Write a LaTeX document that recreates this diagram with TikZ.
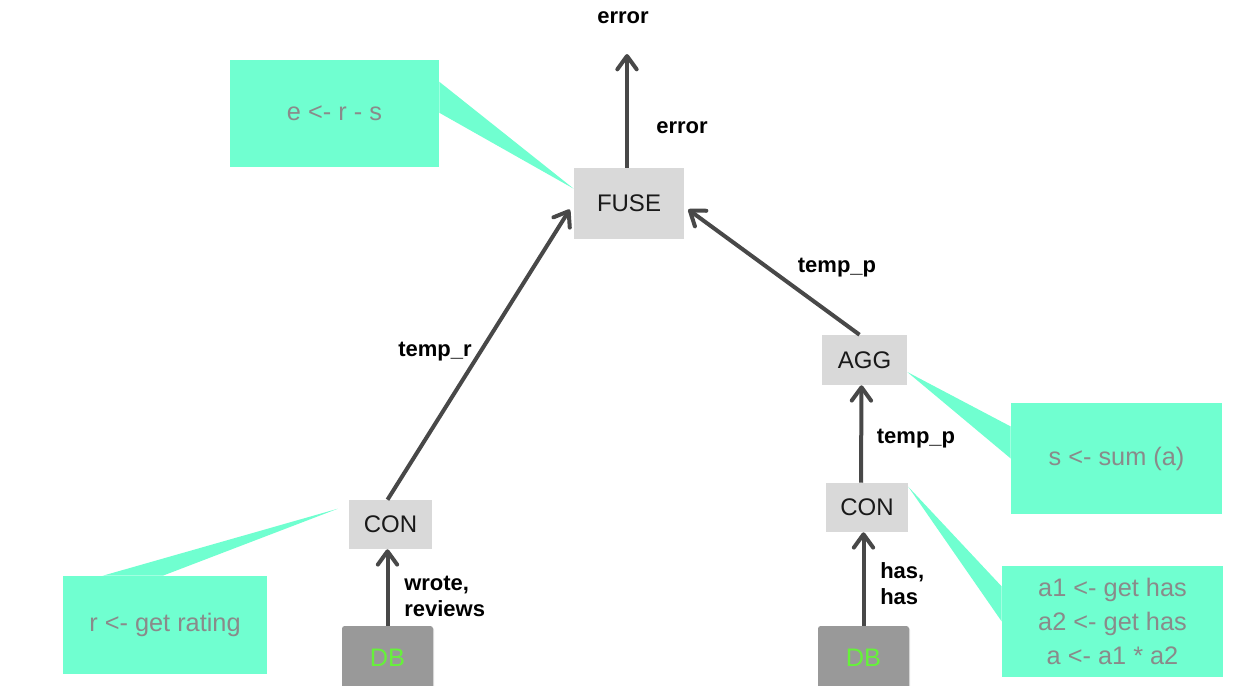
\documentclass[tikz,border=0pt]{standalone}
\usepackage{fontspec}
\setmainfont{Liberation Sans}
\usetikzlibrary{arrows.meta,calc,shadows}
\definecolor{notefill}{HTML}{70FFD0}
\definecolor{notetext}{HTML}{8A8A8A}
\definecolor{opfill}{HTML}{D9D9D9}
\definecolor{dbfill}{HTML}{999999}
\definecolor{dbtext}{HTML}{66F23A}
\definecolor{flow}{HTML}{484848}
\tikzset{
  opbox/.style={fill=opfill, inner sep=0pt, text=black!90,
    font=\fontsize{18}{21}\selectfont},
  dbbox/.style={fill=dbfill, rounded corners=2pt, inner sep=0pt, text=dbtext,
    minimum width=68.25pt, minimum height=48pt,
    font=\fontsize{19}{22}\selectfont,
    drop shadow={shadow xshift=0.8pt, shadow yshift=-1pt, opacity=0.25}},
  notebox/.style={fill=notefill, inner sep=0pt, text=notetext, align=center,
    font=\fontsize{19}{25.5}\selectfont},
  pointer/.style={fill=notefill},
  flowarrow/.style={draw=flow, line width=3pt,
    -{Straight Barb[length=10pt,width=14.5pt,line cap=round,line join=round]}},
  flowlabel/.style={font=\bfseries\fontsize{16.5}{19.5}\selectfont, text=black, inner sep=0pt}
}
\begin{document}
\begin{tikzpicture}[x=0.75pt,y=-0.75pt]
\useasboundingbox[fill=white] (0,0) rectangle (1247,686);
\clip (0,0) rectangle (1247,686);

% operator boxes
\node[opbox, minimum width=82.5pt, minimum height=53.25pt] (fuse) at (629,203.5) {FUSE};
\node[opbox, minimum width=63.75pt, minimum height=37.5pt] (agg) at (864.5,360) {AGG};
\node[opbox, minimum width=61.5pt, minimum height=36.75pt] (rcon) at (867,507.5) {CON};
\node[opbox, minimum width=62.25pt, minimum height=36.75pt] (lcon) at (390.5,524.5) {CON};

% data sources
\node[dbbox] (ldb) at (387.5,658) {DB};
\node[dbbox] (rdb) at (863.5,658) {DB};

% annotation boxes
\node[notebox, minimum width=156.75pt, minimum height=80.25pt] (enote) at (334.5,113.5) {e <- r - s};
\node[notebox, minimum width=158.25pt, minimum height=83.25pt] (snote) at (1116.5,458.5) {s <- sum (a)};
\node[notebox, minimum width=153pt, minimum height=73.5pt] (rnote) at (165,625) {r <- get rating};
\node[notebox, minimum width=165.75pt, minimum height=83.25pt] (anote) at (1112.5,621.5) {a1 <- get has\\a2 <- get has\\a <- a1 * a2};

% annotation pointers
\fill[pointer] ($(enote.north east)+(0,22)$) -- ($(fuse.north west)+(0,21)$) -- ($(enote.north east)+(0,53)$) -- cycle;
\fill[pointer] ($(snote.west)+(0,-32)$) -- ($(agg.east)+(0,12)$) -- (snote.west) -- cycle;
\fill[pointer] ($(anote.west)+(0,-35)$) -- ($(rcon.north east)+(0,4)$) -- (anote.west) -- cycle;
\fill[pointer] ($(rnote.north west)+(40,0)$) -- ($(lcon.north west)+(-11,9)$) -- ($(rnote.north west)+(100,0)$) -- cycle;

% output
\coordinate (out) at (627,54);
\node[flowlabel] (outlabel) at (623,18) {error};

% data flow
\draw[flowarrow] (fuse.north -| out) -- (out);
\draw[flowarrow] ($(lcon.north)+(-3,0)$) -- ($(fuse.west)+(-4,6)$);
\draw[flowarrow] ($(agg.north)+(-5,0)$) -- ($(fuse.east)+(4,6)$);
\draw[flowarrow] ($(rcon.north)+(-6,0)$) -- ($(agg.south)+(-3,0)$);
\draw[flowarrow] (ldb.north) -- (ldb.north |- lcon.south);
\draw[flowarrow] (rdb.north) -- (rdb.north |- rcon.south);

% edge labels
\node[flowlabel] (lerr) at (682,128) {error};
\node[flowlabel] (ltr) at (435,352) {temp\_r};
\node[flowlabel] (ltp1) at (837,268) {temp\_p};
\node[flowlabel] (ltp2) at (916,439) {temp\_p};
\node[flowlabel, anchor=west, align=left] (lwr) at (404,596) {wrote,\\reviews};
\node[flowlabel, anchor=west, align=left] (lhas) at (880,584) {has,\\has};
\end{tikzpicture}
\end{document}
